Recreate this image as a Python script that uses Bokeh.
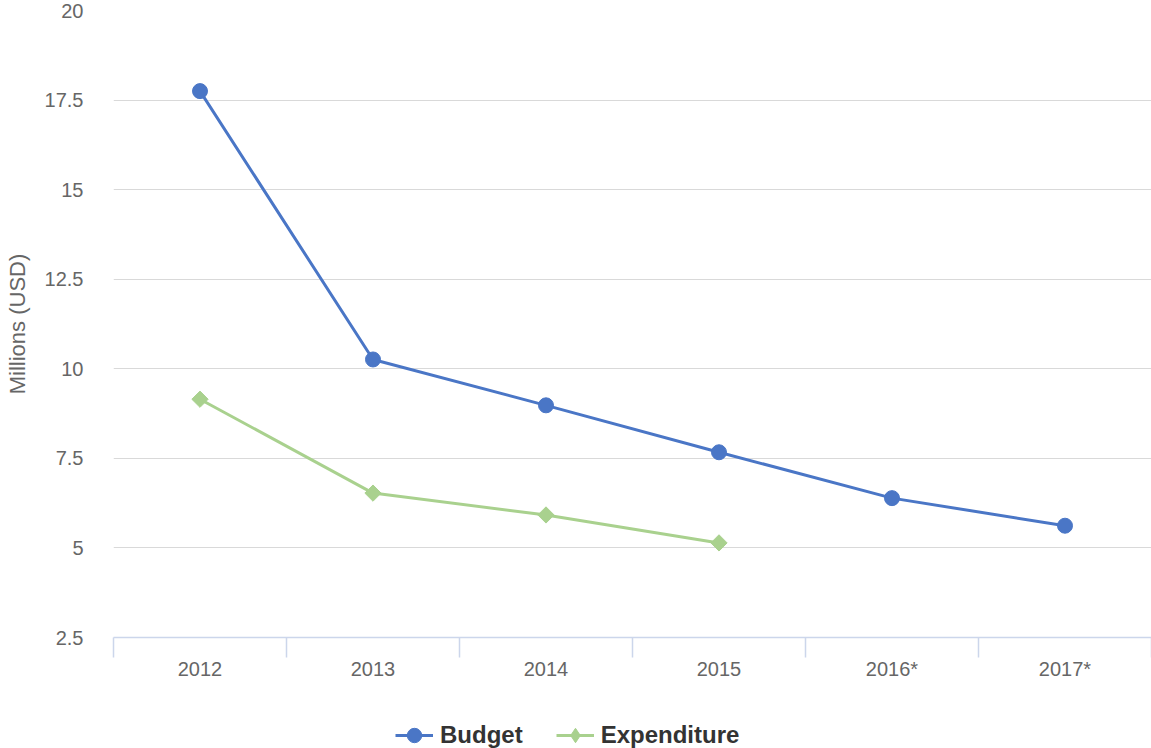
import math
from bokeh.plotting import figure
from bokeh.layouts import column
from bokeh.models import (Range1d, FixedTicker, Legend, LegendItem, ColumnDataSource)
from bokeh.embed import file_html
from bokeh.resources import INLINE

years = ["2012", "2013", "2014", "2015", "2016*", "2017*"]
budget = [17.75, 10.26, 8.98, 7.67, 6.39, 5.62]
expenditure = [9.15, 6.53, 5.92, 5.14]
y_ticks = [2.5, 5, 7.5, 10, 12.5, 15, 17.5, 20]
y_tick_labels = ["2.5", "5", "7.5", "10", "12.5", "15", "17.5", "20"]
series_names = ["Budget", "Expenditure"]

FONT = "Liberation Sans"
BLUE = "#4a76c6"
GREEN = "#a9d18e"

xpos_b = [i + 0.5 for i in range(len(budget))]
xpos_e = [i + 0.5 for i in range(len(expenditure))]

fig = figure(width=1151, height=682, output_backend="svg", toolbar_location=None,
             x_range=Range1d(0, len(years)), y_range=Range1d(2.5, 20))
fig.min_border_left = 113
fig.min_border_right = 0
fig.min_border_top = 10
fig.min_border_bottom = 45
fig.outline_line_color = None
fig.background_fill_color = "white"
fig.border_fill_color = "white"

# grid
fig.xgrid.grid_line_color = None
fig.ygrid.grid_line_color = "#d9d9d9"
fig.ygrid.grid_line_width = 1

# x axis
xa = fig.xaxis[0]
xa.ticker = FixedTicker(ticks=xpos_b, minor_ticks=list(range(len(years) + 1)))
xa.major_label_overrides = {x: lab for x, lab in zip(xpos_b, years)}
xa.major_tick_line_color = None
xa.major_tick_out = 0
xa.major_tick_in = 0
xa.minor_tick_line_color = "#ccd6eb"
xa.minor_tick_line_width = 1.5
xa.minor_tick_out = 20
xa.minor_tick_in = 0
xa.axis_line_color = "#ccd6eb"
xa.axis_line_width = 1.5
xa.major_label_text_font = FONT
xa.major_label_text_font_size = "20px"
xa.major_label_text_color = "#666666"
xa.major_label_standoff = 0

# y axis
ya = fig.yaxis[0]
ya.ticker = FixedTicker(ticks=y_ticks)
ya.major_label_overrides = {t: l for t, l in zip(y_ticks, y_tick_labels)}
ya.axis_line_color = None
ya.major_tick_line_color = None
ya.minor_tick_line_color = None
ya.major_tick_out = 0
ya.major_tick_in = 0
ya.major_label_text_font = FONT
ya.major_label_text_font_size = "20px"
ya.major_label_text_color = "#666666"
ya.major_label_standoff = 30
ya.axis_label = "Millions (USD)"
ya.axis_label_text_font = FONT
ya.axis_label_text_font_style = "normal"
ya.axis_label_text_font_size = "22px"
ya.axis_label_text_color = "#666666"
ya.axis_label_standoff = 12

src_b = ColumnDataSource(dict(x=xpos_b, y=budget))
src_e = ColumnDataSource(dict(x=xpos_e, y=expenditure))

fig.line("x", "y", source=src_b, line_color=BLUE, line_width=3)
fig.scatter("x", "y", source=src_b, marker="circle", size=15,
            fill_color=BLUE, line_color=BLUE)
fig.line("x", "y", source=src_e, line_color=GREEN, line_width=3)
fig.scatter("x", "y", source=src_e, marker="square", size=11.5, angle=math.pi / 4,
            fill_color=GREEN, line_color=GREEN)

# legend strip below the chart (its ranges keep the series themselves out of view)
leg = figure(width=1151, height=66, output_backend="svg", toolbar_location=None,
             x_range=Range1d(0, len(years)), y_range=Range1d(-2, -1),
             x_axis_location=None, y_axis_location=None)
leg.min_border = 0
leg.outline_line_color = None
leg.grid.visible = False
lb = leg.line("x", "y", source=src_b, line_color=BLUE, line_width=3)
mb = leg.scatter("x", "y", source=src_b, marker="circle",
                 fill_color=BLUE, line_color=BLUE)
le = leg.line("x", "y", source=src_e, line_color=GREEN, line_width=3)
me = leg.scatter("x", "y", source=src_e, marker="diamond",
                 fill_color=GREEN, line_color=GREEN)

legend = Legend(items=[LegendItem(label=series_names[0], renderers=[lb, mb]),
                       LegendItem(label=series_names[1], renderers=[le, me])],
                orientation="horizontal", location=(282, -5))
legend.label_text_font = FONT
legend.label_text_font_size = "24px"
legend.label_text_font_style = "bold"
legend.label_text_color = "#333333"
legend.border_line_color = None
legend.background_fill_alpha = 0
legend.glyph_width = 38
legend.glyph_height = 36
legend.spacing = 33
legend.label_standoff = 7
legend.margin = 0
legend.padding = 0
leg.add_layout(legend, "center")

p = column(fig, leg, spacing=0)
open("out.html", "w").write(file_html(p, INLINE))
